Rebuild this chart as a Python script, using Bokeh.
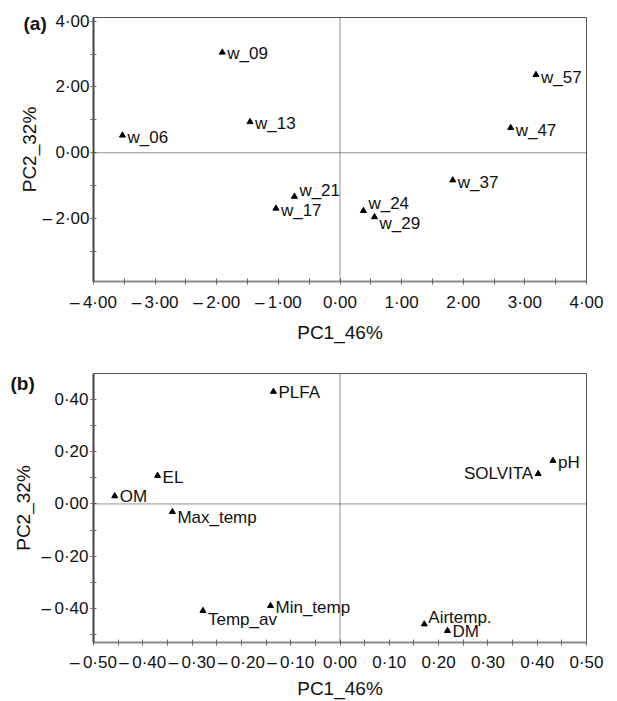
from bokeh.plotting import figure
from bokeh.models import (Range1d, FixedTicker, CustomJSTickFormatter, Span,
                          LabelSet, Label, ColumnDataSource)
from bokeh.core.properties import field, value
from bokeh.layouts import column
from bokeh.embed import file_html
from bokeh.resources import INLINE

# ---------------- data: panel (a) sample scores ----------------
sample_names = ["w_06", "w_09", "w_13", "w_17", "w_21", "w_24", "w_29", "w_37", "w_47", "w_57"]
sample_pc1 = [-3.53, -1.91, -1.46, -1.04, -0.74, 0.38, 0.56, 1.83, 2.77, 3.18]
sample_pc2 = [0.53, 3.05, 0.94, -1.69, -1.33, -1.76, -1.95, -0.83, 0.76, 2.37]

# ---------------- data: panel (b) variable loadings ----------------
var_names = ["OM", "EL", "Max_temp", "Temp_av", "Min_temp", "PLFA", "Airtemp.", "DM", "SOLVITA", "pH"]
var_pc1 = [-0.457, -0.370, -0.340, -0.278, -0.141, -0.135, 0.171, 0.218, 0.402, 0.432]
var_pc2 = [0.030, 0.108, -0.030, -0.408, -0.389, 0.429, -0.459, -0.484, 0.115, 0.165]

# tick labels
a_xticks = [-4, -3, -2, -1, 0, 1, 2, 3, 4]
a_yticks = [-2, 0, 2, 4]
b_xticks = [-0.5, -0.4, -0.3, -0.2, -0.1, 0.0, 0.1, 0.2, 0.3, 0.4, 0.5]
b_yticks = [-0.4, -0.2, 0.0, 0.2, 0.4]
a_xminor = [-3.5, -2.5, -1.5, -0.5, 0.5, 1.5, 2.5, 3.5]
a_yminor = [-3, -1, 1, 3]
b_xminor = [-0.45, -0.35, -0.25, -0.15, -0.05, 0.05, 0.15, 0.25, 0.35, 0.45]
b_yminor = [-0.5, -0.3, -0.1, 0.1, 0.3]

# label placement (screen px, positive = up)
a_label_dx = [5] * 10
a_label_dy = [-2, -1, -1.5, -2, 6, 7, -7, -2, -3, -3]
b_label_dx = [5, 5, 5, 5, 5, 5, 4, 5, -5, 5]
b_label_dy = [0, -2, -6, -9, -2, -1, 7, -1, 0, -1.5]
b_label_align = ["left"] * 8 + ["right", "left"]

FONT = "Liberation Sans"
fmt_code = """
const s = Math.abs(tick).toFixed(2).replace('.', '\\u00b7');
return (tick < -1e-9 ? '\\u2013\\u2009' : '') + s;
"""


def style(p, xt, xm, yt, ym, xstand, ystand, xls, yls):
    p.grid.visible = False
    p.background_fill_color = "white"
    p.border_fill_color = "white"
    p.outline_line_color = "#555555"
    p.outline_line_width = 1
    for ax, t, m in ((p.xaxis[0], xt, xm), (p.yaxis[0], yt, ym)):
        ax.ticker = FixedTicker(ticks=t, minor_ticks=m)
        ax.formatter = CustomJSTickFormatter(code=fmt_code)
        ax.major_tick_in = 3
        ax.major_tick_out = 3
        ax.minor_tick_in = 3
        ax.minor_tick_out = 3
        ax.major_tick_line_color = "#666666"
        ax.minor_tick_line_color = "#666666"
        ax.major_label_text_font = FONT
        ax.major_label_text_font_size = "17px"
        ax.major_label_text_color = "#111111"
        ax.axis_label_text_font = FONT
        ax.axis_label_text_font_size = "19px"
        ax.axis_label_text_font_style = "normal"
        ax.axis_label_text_color = "#111111"
        ax.axis_line_width = 2
    p.xaxis.axis_line_color = "#8a8a8a"
    p.yaxis.axis_line_color = "#444444"
    p.xaxis.major_label_standoff = xstand
    p.yaxis.major_label_standoff = ystand
    p.xaxis.axis_label_standoff = xls
    p.yaxis.axis_label_standoff = yls
    p.add_layout(Span(location=0, dimension="width", line_color="#222222",
                      line_width=1, line_dash="1 1"))
    p.add_layout(Span(location=0, dimension="height", line_color="#222222",
                      line_width=1, line_dash="1 1"))


def panel_tag(p, text, x, y, dx, dy, side):
    p.add_layout(Label(x=x, y=y, x_offset=dx, y_offset=dy, text=text,
                       text_font=FONT, text_font_size="19px", text_font_style="bold",
                       text_baseline="middle", text_align="left",
                       text_color="#111111"), side)


# ---------------- panel (a) ----------------
pa = figure(width=617, height=345, x_range=Range1d(-4, 4), y_range=Range1d(-3.91, 4.11),
            output_backend="svg", toolbar_location=None,
            min_border_left=82, min_border_right=31, min_border_top=17, min_border_bottom=60,
            x_axis_label="PC1_46%", y_axis_label="PC2_32%")
style(pa, a_xticks, a_xminor, a_yticks, a_yminor, 8, 1, 7, 0)
src_a = ColumnDataSource(dict(x=sample_pc1, y=sample_pc2, name=sample_names,
                              dx=a_label_dx, dy=a_label_dy))
pa.scatter("x", "y", source=src_a, marker="triangle", size=6,
           fill_color="black", line_color="black")
pa.add_layout(LabelSet(x="x", y="y", text="name", source=src_a,
                       x_offset=field("dx"), y_offset=field("dy"),
                       text_font=value(FONT), text_font_size=value("17px"),
                       text_color="#111111",
                       text_baseline="middle", text_align="left"))
panel_tag(pa, "(a)", -4, 4.11, -70, -5.5, "right")

# ---------------- panel (b) ----------------
pb = figure(width=617, height=356, x_range=Range1d(-0.5, 0.5), y_range=Range1d(-0.529, 0.498),
            output_backend="svg", toolbar_location=None,
            min_border_left=93, min_border_right=20, min_border_top=28, min_border_bottom=56,
            x_axis_label="PC1_46%", y_axis_label="PC2_32%")
style(pb, b_xticks, b_xminor, b_yticks, b_yminor, 7, 2, 3, 5)
src_b = ColumnDataSource(dict(x=var_pc1, y=var_pc2, name=var_names,
                              dx=b_label_dx, dy=b_label_dy, align=b_label_align))
pb.scatter("x", "y", source=src_b, marker="triangle", size=6,
           fill_color="black", line_color="black")
pb.add_layout(LabelSet(x="x", y="y", text="name", source=src_b,
                       x_offset=field("dx"), y_offset=field("dy"),
                       text_font=value(FONT), text_font_size=value("17px"),
                       text_color="#111111",
                       text_baseline="middle", text_align=field("align")))
panel_tag(pb, "(b)", -0.5, 0.498, -83, -9.5, "above")

layout = column(pa, pb)
open("out.html", "w").write(file_html(layout, INLINE))
